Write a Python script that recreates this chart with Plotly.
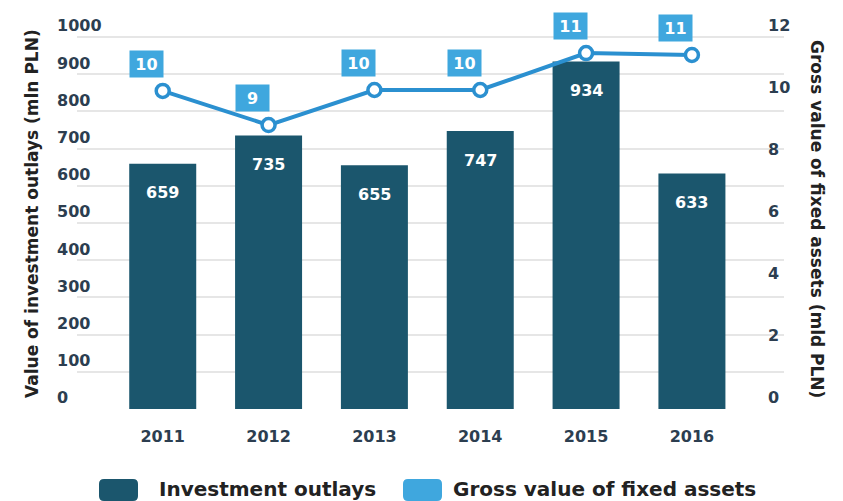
import plotly.graph_objects as go

# --- Data ---
YEARS = ["2011", "2012", "2013", "2014", "2015", "2016"]
OUTLAYS = [659, 735, 655, 747, 934, 633]           # mln PLN (left axis)
GROSS_VALUE = [10.26, 9.16, 10.29, 10.29, 11.48, 11.42]  # mld PLN (right axis)
LEFT_TICKS = [0, 100, 200, 300, 400, 500, 600, 700, 800, 900, 1000]
RIGHT_TICKS = [0, 2, 4, 6, 8, 10, 12]

# --- Theme ---
BAR_COLOR = "#1b566d"
LINE_COLOR = "#2b90d0"
BOX_COLOR = "#3fa7de"
TICK_COLOR = "#2c3e50"
TEXT_DARK = "#222222"
GRID_COLOR = "#e6e6e6"
FONT = "DejaVu Sans, Arial, sans-serif"

# page body has a default 8px margin, so the figure is drawn at (8, 8)
OFF = 8
W, H = 843 - OFF, 501 - OFF
HEADROOM = 1.07  # extra range so the top tick label is not hidden


def px_x(p):
    return (p - OFF) / W


def px_y(p):
    return 1 - (p - OFF) / H


# plot area in window pixels: value 0 at y=409, 1000 at y=37
Y0_PX, Y1000_PX = 409, 37
TOP_PX = Y0_PX - (Y0_PX - Y1000_PX) * HEADROOM

fig = go.Figure()

fig.add_trace(go.Bar(
    x=YEARS, y=OUTLAYS, marker=dict(color=BAR_COLOR, line=dict(width=0)),
    width=0.633, name="Investment outlays", showlegend=False,
))

fig.add_trace(go.Scatter(
    x=YEARS, y=GROSS_VALUE, yaxis="y2", mode="lines+markers",
    line=dict(color=LINE_COLOR, width=4),
    marker=dict(size=13, color="white", line=dict(color=LINE_COLOR, width=3.5)),
    name="Gross value of fixed assets", showlegend=False,
))

annotations = []
# value labels inside bars
for i, v in enumerate(OUTLAYS):
    annotations.append(dict(
        x=i, y=v, xref="x", yref="y", text=f"<b>{v}</b>", showarrow=False,
        yshift=-29, font=dict(family=FONT, size=16, color="white"),
    ))
# boxed labels above line points
for i, v in enumerate(GROSS_VALUE):
    annotations.append(dict(
        x=i, y=v, xref="x", yref="y2", text=f"<b>{round(v)}</b>", showarrow=False,
        xshift=-16, yshift=27, width=31, height=24, borderpad=1, bgcolor=BOX_COLOR,
        font=dict(family=FONT, size=16, color="white"),
    ))

# axis titles
annotations.append(dict(
    x=px_x(20), y=px_y(214), xref="paper", yref="paper", textangle=-90,
    text="<b>Value of investment outlays (mln PLN)</b>", showarrow=False,
    font=dict(family=FONT, size=17, color=TEXT_DARK),
))
annotations.append(dict(
    x=px_x(829), y=px_y(219), xref="paper", yref="paper", textangle=90,
    text="<b>Gross value of fixed assets (mld PLN)</b>", showarrow=False,
    font=dict(family=FONT, size=17, color=TEXT_DARK),
))

# legend (manual)
shapes = []
legend_items = [("Investment outlays", BAR_COLOR, 99, 157),
                ("Gross value of fixed assets", BOX_COLOR, 403, 451)]
for label, color, sx, tx in legend_items:
    x0, x1, y0, y1, r = sx, sx + 39, 479, 501, 5
    path = (f"M {px_x(x0 + r)} {px_y(y0)} L {px_x(x1 - r)} {px_y(y0)} "
            f"Q {px_x(x1)} {px_y(y0)} {px_x(x1)} {px_y(y0 + r)} "
            f"L {px_x(x1)} {px_y(y1 - r)} Q {px_x(x1)} {px_y(y1)} {px_x(x1 - r)} {px_y(y1)} "
            f"L {px_x(x0 + r)} {px_y(y1)} Q {px_x(x0)} {px_y(y1)} {px_x(x0)} {px_y(y1 - r)} "
            f"L {px_x(x0)} {px_y(y0 + r)} Q {px_x(x0)} {px_y(y0)} {px_x(x0 + r)} {px_y(y0)} Z")
    shapes.append(dict(type="path", path=path, xref="paper", yref="paper",
                       fillcolor=color, line=dict(width=0)))
    annotations.append(dict(
        x=px_x(tx), y=px_y(475), xref="paper", yref="paper", xanchor="left", yanchor="top",
        text=f"<b>{label}</b>", showarrow=False,
        font=dict(family=FONT, size=20, color=TEXT_DARK),
    ))

tickfont = dict(family=FONT, size=16, color=TICK_COLOR, weight="bold")
y_domain = [px_y(Y0_PX), min(1, px_y(TOP_PX))]

fig.update_layout(
    width=W, height=H,
    margin=dict(l=0, r=0, t=0, b=0, pad=0),
    paper_bgcolor="white", plot_bgcolor="white",
    font=dict(family=FONT, color=TICK_COLOR),
    showlegend=False,
    xaxis=dict(
        domain=[px_x(77), px_x(784)], type="category", range=[-0.81, 5.87],
        showgrid=False, zeroline=False, showline=False, ticks="",
        ticklabelstandoff=16, automargin=False, tickfont=tickfont,
    ),
    # gridlines only
    yaxis=dict(
        domain=y_domain, range=[0, 1000 * HEADROOM], tickvals=LEFT_TICKS,
        showticklabels=False, showgrid=True, gridcolor=GRID_COLOR, gridwidth=2,
        zeroline=False, showline=False, ticks="", automargin=False,
    ),
    # left tick labels, left-aligned and sitting above their gridlines
    yaxis3=dict(
        range=[0, 1000 * HEADROOM], tickvals=LEFT_TICKS, overlaying="y",
        anchor="free", position=px_x(53), ticklabelposition="inside top",
        showgrid=False, zeroline=False, showline=False, ticks="", automargin=False,
        tickfont=tickfont,
    ),
    yaxis2=dict(
        range=[0, 12 * HEADROOM], tickvals=RIGHT_TICKS, overlaying="y", side="right",
        anchor="free", position=px_x(767), ticklabelposition="outside top",
        showgrid=False, zeroline=False, showline=False, ticks="", automargin=False,
        tickfont=tickfont,
    ),
    annotations=annotations,
    shapes=shapes,
)

# invisible trace so yaxis3 is drawn
fig.add_trace(go.Scatter(x=[YEARS[0]], y=[None], yaxis="y3", showlegend=False,
                         hoverinfo="skip"))

fig.write_html("out.html")
